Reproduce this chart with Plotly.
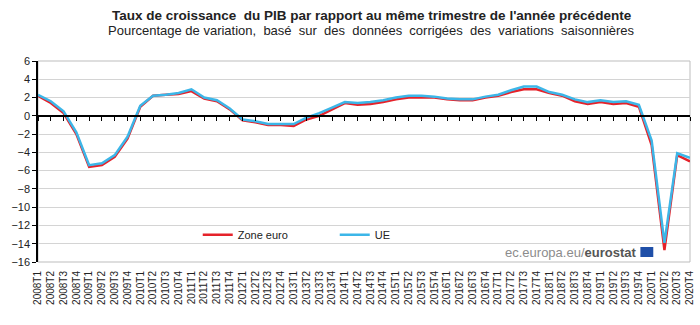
import plotly.graph_objects as go

years = list(range(2008, 2021))
quarters = [f"{y}T{q}" for y in years for q in range(1, 5)]

zone_euro = [2.2, 1.4, 0.3, -2.0, -5.6, -5.4, -4.5, -2.5,
             1.0, 2.2, 2.3, 2.4, 2.7, 1.9, 1.6, 0.7,
             -0.5, -0.7, -1.0, -1.0, -1.1, -0.4, 0.0, 0.7,
             1.4, 1.2, 1.3, 1.5, 1.8, 2.0, 2.0, 2.0,
             1.8, 1.7, 1.7, 2.0, 2.2, 2.6, 2.9, 2.9,
             2.5, 2.2, 1.6, 1.3, 1.5, 1.3, 1.4, 1.0,
             -3.2, -14.7, -4.3, -5.0]

ue = [2.3, 1.6, 0.5, -1.8, -5.4, -5.2, -4.3, -2.3,
      1.1, 2.2, 2.3, 2.5, 2.9, 2.0, 1.7, 0.8,
      -0.4, -0.6, -0.9, -0.9, -0.9, -0.2, 0.3, 0.9,
      1.5, 1.4, 1.5, 1.7, 2.0, 2.2, 2.2, 2.1,
      1.9, 1.8, 1.8, 2.1, 2.3, 2.8, 3.2, 3.2,
      2.6, 2.3, 1.8, 1.5, 1.7, 1.5, 1.6, 1.2,
      -2.7, -13.9, -4.1, -4.6]

y_ticks = list(range(-16, 7, 2))

NB = "\u00a0 "
title = "Taux de croissance" + NB + "du PIB par rapport au même trimestre de l'année précédente"
subtitle = NB.join(["Pourcentage de variation,", "basé", "sur", "des", "données",
                    "corrigées", "des", "variations", "saisonnières"])

RED = "#e5222a"
BLUE = "#3cb6e8"
FONT = "Liberation Sans, Arial, sans-serif"

fig = go.Figure()
fig.add_trace(go.Scatter(x=quarters, y=zone_euro, name="Zone euro", mode="lines",
                         line=dict(color=RED, width=2.5)))
fig.add_trace(go.Scatter(x=quarters, y=ue, name="UE", mode="lines",
                         line=dict(color=BLUE, width=2.5)))
# invisible trace to carry the zero-line tick axis
fig.add_trace(go.Scatter(x=quarters, y=ue, xaxis="x2", mode="lines",
                         line=dict(width=0), opacity=0, showlegend=False,
                         hoverinfo="skip"))

ymin, ymax = -16, 6
fig.update_layout(
    width=700, height=325,
    margin=dict(l=38, r=5, t=61, b=63),
    paper_bgcolor="white", plot_bgcolor="white",
    font=dict(family=FONT, color="#222222"),
    showlegend=True,
    legend=dict(orientation="h", x=0.245, y=0.135, xanchor="left", yanchor="middle",
                font=dict(size=11, color="#222222", family=FONT),
                bgcolor="rgba(0,0,0,0)", entrywidth=92, entrywidthmode="pixels",
                itemwidth=30),
    xaxis=dict(type="category", range=[0, len(quarters) - 1],
               tickmode="array", tickvals=quarters, ticktext=quarters,
               showgrid=False, zeroline=False, showline=False, ticks="",
               tickangle=-90, tickfont=dict(size=10, color="#222222", family=FONT),
               ticklabelstandoff=6),
    xaxis2=dict(type="category", overlaying="x", anchor="free",
                position=(0 - ymin) / (ymax - ymin), matches="x",
                showline=True, linecolor="black", linewidth=1.5,
                ticks="outside", ticklen=4, tickcolor="black", tickwidth=1,
                showticklabels=False, showgrid=False, zeroline=False,
                tickmode="array", tickvals=quarters),
    yaxis=dict(range=[ymin, ymax], tickvals=y_ticks,
               showgrid=True, gridcolor="#d4d4d4", gridwidth=1.2,
               zeroline=False, showline=True, linecolor="black", linewidth=1.5,
               ticks="outside", ticklen=4, tickcolor="black",
               tickfont=dict(size=11, color="#222222", family=FONT)),
)

# frame (top & right)
fig.add_shape(type="rect", xref="paper", yref="paper", x0=0, x1=1, y0=0, y1=1,
              line=dict(color="#bdbdbd", width=1), layer="below")

fig.add_annotation(text=f"<b>{title}</b>", xref="paper", yref="paper",
                   x=(374.5 - 38) / 657, y=1, yshift=46, xanchor="center", yanchor="middle",
                   showarrow=False, font=dict(size=13.5, color="#222222", family=FONT))
fig.add_annotation(text=subtitle, xref="paper", yref="paper",
                   x=(374.5 - 38) / 657, y=1, yshift=31, xanchor="center", yanchor="middle",
                   showarrow=False, font=dict(size=13, color="#222222", family=FONT))

# eurostat credit
fig.add_annotation(text="ec.europa.eu/<b><span style='color:#555555'>eurostat</span></b>",
                   xref="paper", yref="paper", x=(643 - 38) / 657, y=(262 - 252) / 201,
                   xanchor="right", yanchor="middle", showarrow=False,
                   font=dict(size=13, color="#8c8c8c", family=FONT))
fig.add_shape(type="rect", xref="paper", yref="paper",
              x0=(645 - 38) / 657, x1=(658 - 38) / 657,
              y0=(262 - 257) / 201, y1=(262 - 247) / 201,
              fillcolor="#1f4fa8", line=dict(width=0))

fig.write_html("out.html")
